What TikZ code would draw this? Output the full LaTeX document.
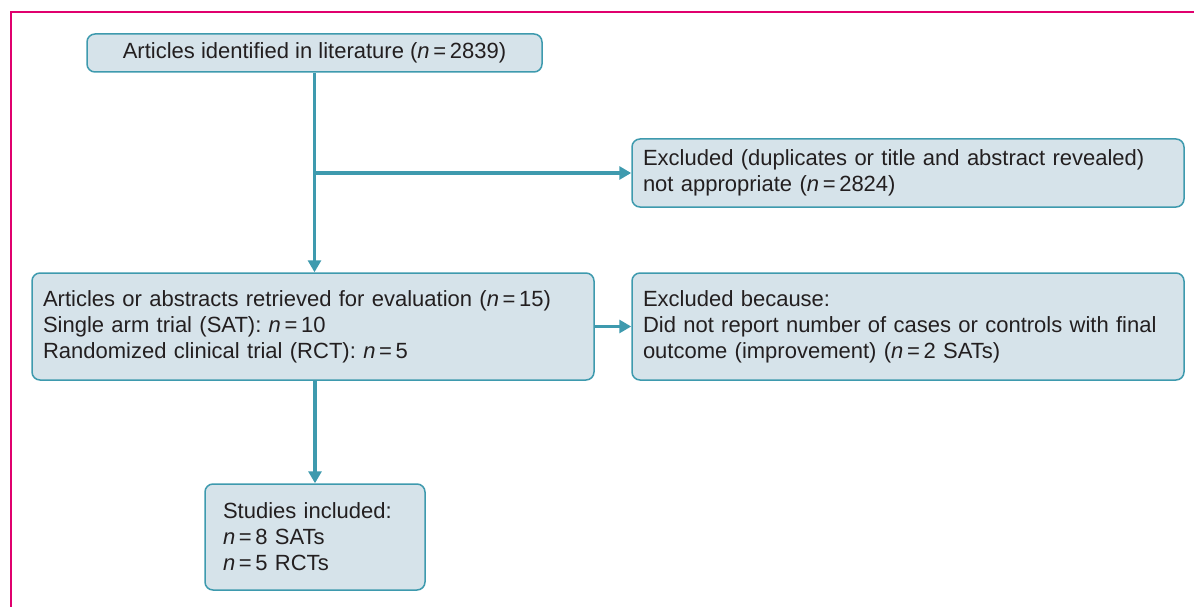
\documentclass[tikz,border=0pt]{standalone}
\usepackage{fontspec}
\setmainfont{Liberation Sans}
\usetikzlibrary{arrows.meta}
\definecolor{boxfill}{HTML}{D6E3EA}
\definecolor{boxline}{HTML}{3E9AAE}
\definecolor{frame}{HTML}{E0006E}
\definecolor{txt}{HTML}{231F20}
\newcommand{\nn}{\textit{n}\,=\,}
\begin{document}
\begin{tikzpicture}[x=1pt,y=-1pt,
  box/.style={draw=boxline, fill=boxfill, line width=1.5pt, rounded corners=8pt,
    text=txt, font=\fontsize{22}{26}\selectfont, align=left, inner ysep=0pt},
  conn/.style={draw=boxline, line width=3.2pt, -{Triangle[length=12pt,width=13pt]}}]
\useasboundingbox (0,0) rectangle (1194,607);
\draw[frame, line width=2.5pt] (11,607) -- (11,12) -- (1194,12);
\node[box, minimum width=455pt, minimum height=38pt, align=center] (b1) at (314.5,53)
  {Articles identified in literature (\nn2839)};
\node[box, minimum width=552pt, minimum height=68pt, text width=530pt, inner xsep=11pt] (b2) at (908,173)
  {Excluded (duplicates or title and abstract revealed)\\not appropriate (\nn2824)};
\node[box, minimum width=562pt, minimum height=107pt, text width=540pt, inner xsep=11pt] (b3) at (313,326.5)
  {Articles or abstracts retrieved for evaluation (\nn15)\\Single arm trial (SAT): \nn10\\Randomized clinical trial (RCT): \nn5};
\node[box, minimum width=552pt, minimum height=107pt, text width=530pt, inner xsep=11pt] (b4) at (908,326.5)
  {Excluded because:\\Did not report number of cases or controls with final\\outcome (improvement) (\nn2 SATs)};
\node[box, minimum width=220pt, minimum height=106pt, text width=184pt, inner xsep=18pt] (b5) at (315,537)
  {Studies included:\\\nn8 SATs\\\nn5 RCTs};
\coordinate (j) at (b1.south |- b2.west);
\draw[conn] (b1.south) -- (b1.south |- b3.north);
\draw[conn] (j) -- (b2.west);
\draw[conn] (b3.east |- b4.west) -- (b4.west);
\draw[conn] (b3.south -| b5.north) -- (b5.north);
\end{tikzpicture}
\end{document}
